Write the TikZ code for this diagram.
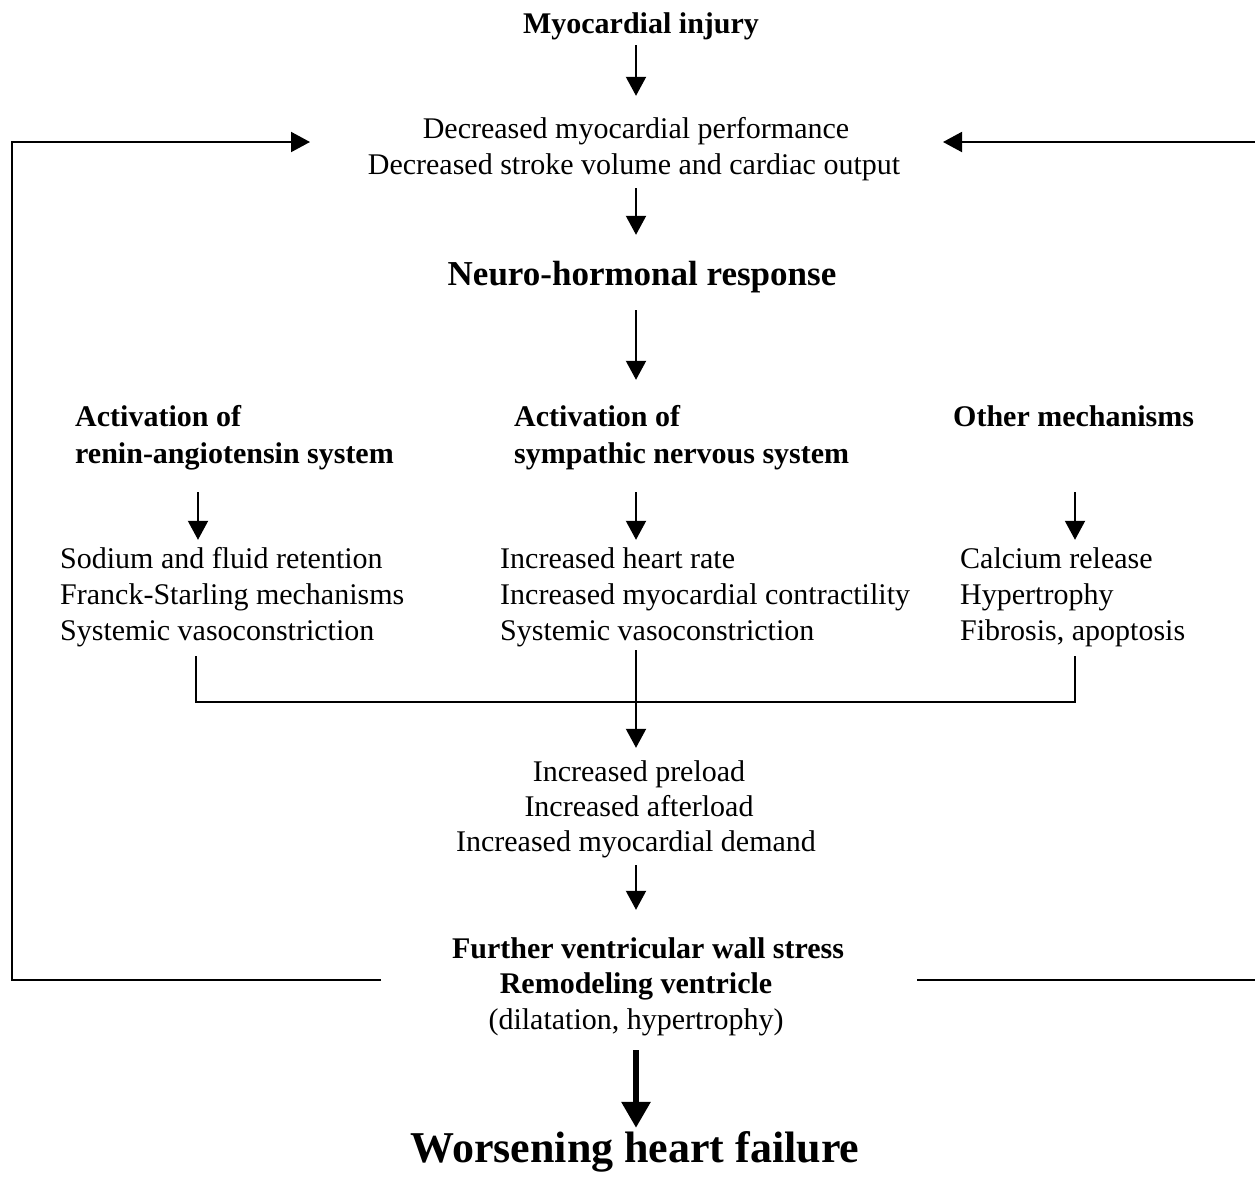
\documentclass[tikz,border=0pt]{standalone}
\usepackage{fontspec}
\setmainfont{Liberation Serif}
\usetikzlibrary{arrows.meta}
\begin{document}
\begin{tikzpicture}[x=1pt,y=-1pt,
  reg/.style={inner sep=0pt,text height=21pt,text depth=7pt,font=\fontsize{30}{36}\selectfont},
  bld/.style={inner sep=0pt,text height=21pt,text depth=7pt,font=\fontsize{30}{36}\selectfont\bfseries},
  big/.style={inner sep=0pt,text height=24pt,text depth=8pt,font=\fontsize{35}{42}\selectfont\bfseries},
  huge/.style={inner sep=0pt,text height=30pt,text depth=10pt,font=\fontsize{44}{52}\selectfont\bfseries},
  ln/.style={line width=2pt},
  arr/.style={line width=2pt,-{Triangle[length=19pt,width=20pt]}},
  thick arr/.style={line width=6pt,-{Triangle[length=26pt,width=28pt]}}]
\useasboundingbox (0,0) rectangle (1255,1184);
\coordinate (cx) at (636,0);
% texts
\node[bld,anchor=base] (mi) at (641,33) {Myocardial injury};
\node[reg,anchor=base] (dec1) at (636,138) {Decreased myocardial performance};
\node[reg,anchor=base] (dec2) at (634,174) {Decreased stroke volume and cardiac output};
\node[big,anchor=base] (neuro) at (642,285) {Neuro-hormonal response};
\node[bld,anchor=base west] (actL1) at (75,426) {Activation of};
\node[bld,anchor=base west] (actL2) at (75,463) {renin-angiotensin system};
\node[bld,anchor=base west] (actM1) at (514,426) {Activation of};
\node[bld,anchor=base west] (actM2) at (514,463) {sympathic nervous system};
\node[bld,anchor=base west] (actR1) at (953,426) {Other mechanisms};
\node[reg,anchor=base west] (lL1) at (60,568) {Sodium and fluid retention};
\node[reg,anchor=base west] (lL2) at (60,604) {Franck-Starling mechanisms};
\node[reg,anchor=base west] (lL3) at (60,640) {Systemic vasoconstriction};
\node[reg,anchor=base west] (lM1) at (500,568) {Increased heart rate};
\node[reg,anchor=base west] (lM2) at (500,604) {Increased myocardial contractility};
\node[reg,anchor=base west] (lM3) at (500,640) {Systemic vasoconstriction};
\node[reg,anchor=base west] (lR1) at (960,568) {Calcium release};
\node[reg,anchor=base west] (lR2) at (960,604) {Hypertrophy};
\node[reg,anchor=base west] (lR3) at (960,640) {Fibrosis, apoptosis};
\node[reg,anchor=base] (inc1) at (639,781) {Increased preload};
\node[reg,anchor=base] (inc2) at (639,816) {Increased afterload};
\node[reg,anchor=base] (inc3) at (636,851) {Increased myocardial demand};
\node[bld,anchor=base] (fur) at (648,958) {Further ventricular wall stress};
\node[bld,anchor=base] (rem) at (636,993) {Remodeling ventricle};
\node[reg,anchor=base] (dil) at (636,1029) {(dilatation, hypertrophy)};
\node[huge,anchor=base] (wor) at (635,1162) {Worsening heart failure};
% main arrows
\draw[arr,shorten <=5pt,shorten >=21pt] (mi.south -| cx) -- (dec1.north -| cx);
\draw[arr,shorten <=7pt,shorten >=26pt] (dec2.south -| cx) -- (neuro.north -| cx);
\draw[arr,shorten <=17pt,shorten >=25pt] (neuro.south -| cx) -- (actM1.north -| cx);
\coordinate (cl) at (198,0);
\coordinate (cr) at (1075,0);
\draw[arr,shorten <=22pt,shorten >=7pt] (actL2.south -| cl) -- (lL1.north -| cl);
\draw[arr,shorten <=22pt,shorten >=7pt] (actM2.south -| cx) -- (lM1.north -| cx);
\draw[arr,shorten <=59pt,shorten >=7pt] (actR1.south -| cr) -- (lR1.north -| cr);
% bracket
\coordinate (bl) at (196,702);
\coordinate (br) at (1075,702);
\draw[ln] ([yshift=-9pt]lL3.south -| bl) -- (bl) -- (br) -- ([yshift=-9pt]lR3.south -| br);
\draw[arr,shorten <=3pt,shorten >=12pt] (lM3.south -| cx) -- (inc1.north -| cx);
\draw[arr,shorten <=7pt,shorten >=27pt] (inc3.south -| cx) -- (fur.north -| cx);
\draw[thick arr,shorten <=14pt,shorten >=4pt] (dil.south -| cx) -- (wor.north -| cx);
% feedback loops
\coordinate (fl) at (381,980);
\coordinate (lb) at (12,980);
\coordinate (lt) at (12,142);
\coordinate (ltip) at (310,142);
\coordinate (fr) at (917,980);
\coordinate (rb) at (1255,980);
\coordinate (rt) at (1255,142);
\coordinate (rtip) at (943,142);
\draw[arr] (fl) -- (lb) -- (lt) -- (ltip);
\draw[ln] (fr) -- (rb);
\draw[arr] (rt) -- (rtip);
\end{tikzpicture}
\end{document}
